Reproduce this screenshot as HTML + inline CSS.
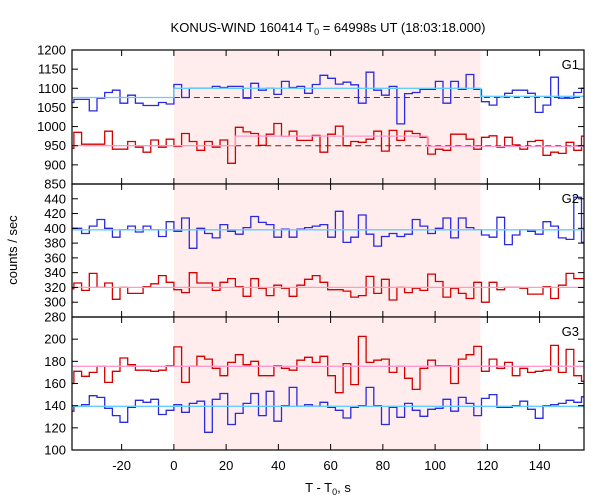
<!DOCTYPE html>
<html><head><meta charset="utf-8">
<style>
body{margin:0;background:#fff;}
svg{display:block;font-family:"Liberation Sans",sans-serif;}
</style></head>
<body>
<svg id="chart" width="600" height="500" viewBox="0 0 600 500" xmlns="http://www.w3.org/2000/svg">
<text x="328" y="32" font-size="13" text-anchor="middle">KONUS-WIND 160414 T<tspan font-size="9" dy="3">0</tspan><tspan dy="-3"> = 64998s UT (18:03:18.000)</tspan></text>
<text transform="translate(17,250) rotate(-90)" font-size="13" text-anchor="middle">counts / sec</text>
<text x="328" y="492" font-size="13" text-anchor="middle">T - T<tspan font-size="9" dy="3">0</tspan><tspan dy="-3">, s</tspan></text>
<g id="plots"></g>
</svg>
<script>
const binWidth = 2.944;
const firstBinIndex = -14;
const xTicks = [-20,0,20,40,60,80,100,120,140];
const shadeStart = 0, shadeEnd = 117.4;
const g1Ticks = [850,900,950,1000,1050,1100,1150,1200];
const g2Ticks = [280,300,320,340,360,380,400,420,440];
const g3Ticks = [100,120,140,160,180,200];
const g1Blue = [1063,1071,1071,1041,1074,1089,1095,1061,1082,1061,1055,1055,1063,1059,
 1110,1076,1100,1100,1100,1105,1102,1105,1105,1074,1113,1095,1100,1084,1118,1102,1105,1087,1110,1134,1126,
 1111,1116,1109,1061,1142,1095,1082,1105,1007,1086,1089,1097,1097,1118,1061,1118,1097,1136,1097,1065,1056,1078,1087,1095,1095,1087,1037,1056,1129,1074,1074,1089,1100];
const g1Red = [943,985,954,954,954,988,941,941,961,946,933,965,946,967,
 948,982,961,938,961,946,965,904,998,986,982,951,980,1008,975,988,964,964,977,933,980,
 1001,950,961,959,967,988,936,990,964,988,982,972,928,941,938,980,980,967,941,972,976,946,972,952,941,961,964,925,933,930,959,938,975];
const g2Blue = [400,400,393,403,412,400,388,398,403,395,403,398,389,409,
 396,414,373,400,393,387,405,396,392,401,416,408,405,388,399,388,399,401,403,405,388,
 423,381,388,418,392,376,389,393,389,392,412,403,393,400,414,387,414,401,398,391,388,415,378,391,398,396,392,409,403,387,385,442,381];
const g2Red = [318,326,316,339,320,326,304,320,312,312,321,325,336,327,
 317,313,340,326,326,316,327,332,321,308,332,319,309,323,319,308,323,331,336,327,317,
 317,315,307,309,335,312,331,303,320,313,319,316,338,328,307,319,312,305,327,300,327,317,320,320,319,311,311,321,305,323,339,332,332];
const g3Red = [160,171,166.5,170,175.5,161,171,183,177,172,172,171,172,176,
 193,161,175.5,184.5,182,173.7,167,179,186,177,180,167,167,176,173.7,172,181,183.6,179,184.5,167,
 151.7,178,159,202.5,179,181,182,170,175.5,164.7,154.7,173.7,181,176,176,160,182,186,193.5,171,182,173.7,179,167,173.7,170,171,172,194.4,170,190.8,167,162];
const g3Blue = [135,139.4,141,149,147.5,137.6,131,125,138.5,144.8,143,145.7,132,135.8,
 141,134,142,144,116,145.7,151,123,133,142,151,131,153,126,140,156.5,139.4,141,139.4,143,138.5,
 135.8,128.9,138.5,140,156.5,140,123,138.5,129.5,142,135.8,130.4,136.7,137.6,145.7,135,147.5,142,131,146.6,150,138.5,138.5,140,144,136.7,128.6,140,141,142,144.8,143,148];
// mean levels: [start, end, value]
const g1BlueMean = [[-39,0,1076],[0,117.4,1100],[117.4,157,1079]];
const g1BlueDash = [[0,157,1076]];
const g1RedMean = [[-39,23.5,950],[23.5,97,975],[97,157,948]];
const g1RedDash = [[23.5,157,950]];
const g2BlueMean = [[-39,157,398]];
const g2RedMean = [[-39,157,320]];
const g3BlueMean = [[-39,157,139.4]];
const g3RedMean = [[-39,157,175.5]];

const XMIN=-39, XMAX=157, PL=72, PR=584;
const xs = t => PL + (t-XMIN)/(XMAX-XMIN)*(PR-PL);
const NS="http://www.w3.org/2000/svg";
const root=document.getElementById('plots');
function mk(tag,attrs,parent){const e=document.createElementNS(NS,tag);for(const k in attrs)e.setAttribute(k,attrs[k]);(parent||root).appendChild(e);return e;}

const panels=[
 {name:'g1',label:'G1',top:50,bot:184,ymin:850,ymax:1200,ticks:g1Ticks,
  series:[[g1Blue,'#2a2ae0',g1BlueMean,'#66ccff',g1BlueDash,'#2a2ae0'],[g1Red,'#d40000',g1RedMean,'#ff99cc',g1RedDash,'#b00000']]},
 {name:'g2',label:'G2',top:184,bot:317,ymin:280,ymax:460,ticks:g2Ticks,
  series:[[g2Blue,'#2a2ae0',g2BlueMean,'#66ccff',null],[g2Red,'#d40000',g2RedMean,'#ff99cc',null]]},
 {name:'g3',label:'G3',top:317,bot:450,ymin:100,ymax:220,ticks:g3Ticks,
  series:[[g3Red,'#d40000',g3RedMean,'#ff99cc',null],[g3Blue,'#2a2ae0',g3BlueMean,'#66ccff',null]]}
];

panels.forEach((p,pi)=>{
 const ys=v=>p.bot-(v-p.ymin)/(p.ymax-p.ymin)*(p.bot-p.top);
 const g=mk('g',{});
 
 
 const cp=mk('clipPath',{id:'cp'+pi},g);
 mk('rect',{x:PL,y:p.top,width:PR-PL,height:p.bot-p.top},cp);
 const sh=mk('rect',{x:xs(shadeStart),y:p.top,width:xs(shadeEnd)-xs(shadeStart),height:p.bot-p.top,fill:'#ffeded'},g);
 
 
 const inner=mk('g',{'clip-path':'url(#cp'+pi+')'},g);
 p.series.forEach((s,si)=>{
  const [vals,col,mean,mcol,dash,dcol]=s;
  let d='';
  vals.forEach((v,i)=>{
   const t0=(firstBinIndex+i)*binWidth, t1=t0+binWidth;
   d+=(i===0?'M':'L')+xs(t0).toFixed(1)+','+ys(v).toFixed(1)+'L'+xs(t1).toFixed(1)+','+ys(v).toFixed(1);
  });
  const ln=mk('path',{d:d,fill:'none',stroke:col,'stroke-width':1.3},inner);
  
  
  if(dash){dash.forEach(m=>{
   const dl=mk('line',{x1:xs(m[0]),x2:xs(m[1]),y1:ys(m[2]),y2:ys(m[2]),stroke:dcol,'stroke-width':1,'stroke-dasharray':'6,4'},inner);
   
   
  });}
  let md='';
  mean.forEach((m,i)=>{md+=(i===0?'M':'L')+xs(m[0]).toFixed(1)+','+ys(m[2]).toFixed(1)+'L'+xs(m[1]).toFixed(1)+','+ys(m[2]).toFixed(1);});
  const ml=mk('path',{d:md,fill:'none',stroke:mcol,'stroke-width':1.3},inner);
  
  
 });
 // reorder: draw means after histograms handled by order above; frame
 const fr=mk('rect',{x:PL,y:p.top,width:PR-PL,height:p.bot-p.top,fill:'none',stroke:'#000','stroke-width':1.2},g);
 
 
 xTicks.forEach(t=>{
  const x=xs(t);
  mk('line',{x1:x,x2:x,y1:p.bot,y2:p.bot-6,stroke:'#000','stroke-width':1},g);
  mk('line',{x1:x,x2:x,y1:p.top,y2:p.top+6,stroke:'#000','stroke-width':1},g);
 });
 p.ticks.forEach(v=>{
  const y=ys(v);
  mk('line',{x1:PL,x2:PL+6,y1:y,y2:y,stroke:'#000','stroke-width':1},g);
  mk('line',{x1:PR,x2:PR-6,y1:y,y2:y,stroke:'#000','stroke-width':1},g);
  const tl=mk('text',{x:PL-6,y:y+4.5,'font-size':13,'text-anchor':'end'},g);
  tl.textContent=v;
  
  
 });
 const lb=mk('text',{x:579,y:p.top+19,'font-size':13,'text-anchor':'end'},g);
 lb.textContent=p.label;
 
 
});
const xg=mk('g',{});


xTicks.forEach(t=>{
 const tx=mk('text',{x:xs(t),y:470,'font-size':13,'text-anchor':'middle'},xg);
 tx.textContent=t;
 
 
});
</script>
</body></html>
